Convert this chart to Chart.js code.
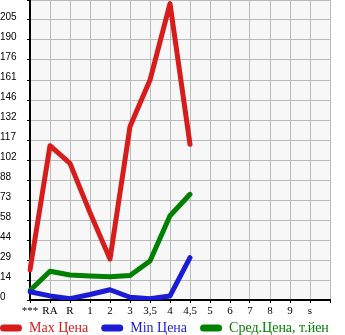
<!DOCTYPE html>
<html><head><meta charset="utf-8">
<script src="https://cdn.jsdelivr.net/npm/chart.js@4/dist/chart.umd.min.js"></script>
<style>html,body{margin:0;padding:0;background:#fff}#wrap{width:345px;height:335px}</style>
</head><body><div id="wrap"><canvas id="c" width="345" height="335"></canvas></div>
<script>
const categories = ['***','RA','R','1','2','3','3,5','4','4,5','5','6','7','8','9','s'];
const maxPrice = [22, 113, 100, 64, 30, 127, 161, 217, 114];
const minPrice = [6, 3, 1, 4, 7.5, 2, 1, 3, 31];
const avgPrice = [7, 21, 18.3, 17.5, 17, 18, 28.5, 61.7, 77.4];
const yTickLabels = ['0','14','29','44','58','73','88','102','117','132','146','161','176','190','205'];
const seriesNames = ['Max Цена','Min Цена','Сред.Цена, т.йен'];
const seriesColors = ['#d81c1c','#1c1cd8','#008000'];

const STEP = Number(yTickLabels[yTickLabels.length-1]) / (yTickLabels.length-1);
const xLabels = [...categories, ''];

const bgPlugin = {
  id: 'bg',
  beforeDraw(chart) {
    const {ctx, chartArea: a} = chart;
    ctx.save(); ctx.fillStyle = '#f7f7f7';
    ctx.fillRect(a.left, a.top, a.right - a.left, a.bottom - a.top);
    ctx.restore();
  },
  afterLayout(chart) {
    const lg = chart.legend;
    if (lg) { lg.left = -13; lg.right = 345; lg.top = 308; lg.bottom = 335; }
  }
};

const noPad = (s) => { s.paddingTop = 0; s.paddingBottom = 0; s.paddingLeft = 0; s.paddingRight = 0; };

const mk = (i, data) => ({
  label: seriesNames[i], data, borderColor: seriesColors[i], backgroundColor: seriesColors[i],
  borderWidth: 5, pointRadius: 0, tension: 0, borderCapStyle: 'round', borderJoinStyle: 'round', fill: false
});

new Chart(document.getElementById('c'), {
  type: 'line',
  data: { labels: xLabels, datasets: [mk(0, maxPrice), mk(1, minPrice), mk(2, avgPrice)] },
  plugins: [bgPlugin],
  options: {
    responsive: false, animation: false, devicePixelRatio: 1,
    layout: { autoPadding: false, padding: 0 },
    plugins: {
      tooltip: { enabled: false },
      legend: {
        position: 'bottom', align: 'start', maxHeight: 15,
        labels: {
          boxWidth: 22, boxHeight: 7, padding: 13, useBorderRadius: true, borderRadius: 3.5,
          font: { family: 'Liberation Serif', size: 14 },
          generateLabels(chart) {
            return chart.data.datasets.map((d, i) => ({
              text: d.label, fillStyle: d.borderColor, strokeStyle: d.borderColor, lineWidth: 0,
              fontColor: d.borderColor, borderRadius: 3.5, datasetIndex: i, hidden: false
            }));
          }
        }
      }
    },
    scales: {
      x: {
        type: 'category', offset: false,
        afterFit(s) { s.height = 20; noPad(s); },
        grid: { color: '#bbbbbb', lineWidth: 1, tickLength: 3, tickColor: '#000' },
        border: { color: '#000', width: 2 },
        ticks: { color: '#000', padding: 2, maxRotation: 0, autoSkip: false, font: { family: 'Liberation Serif', size: 11 } }
      },
      y: {
        type: 'linear', min: 0, max: STEP * yTickLabels.length,
        afterFit(s) { s.width = 30; noPad(s); },
        afterBuildTicks(s) { s.ticks = [...yTickLabels, ''].map((_, i) => ({ value: i * STEP })); },
        grid: { color: '#bbbbbb', lineWidth: 1, tickLength: 3, tickColor: '#000' },
        border: { color: '#000', width: 2 },
        ticks: {
          color: '#000', crossAlign: 'far', labelOffset: -3, autoSkip: false,
          font: { family: 'Liberation Sans', size: 10 },
          callback: (v, i) => (i < yTickLabels.length ? yTickLabels[i] : '')
        }
      },
      yRight: {
        type: 'linear', position: 'right', display: true,
        afterFit(s) { s.width = 15; noPad(s); },
        grid: { display: false, drawTicks: false }, border: { display: false },
        ticks: { display: false }
      }
    }
  }
});
</script></body></html>
